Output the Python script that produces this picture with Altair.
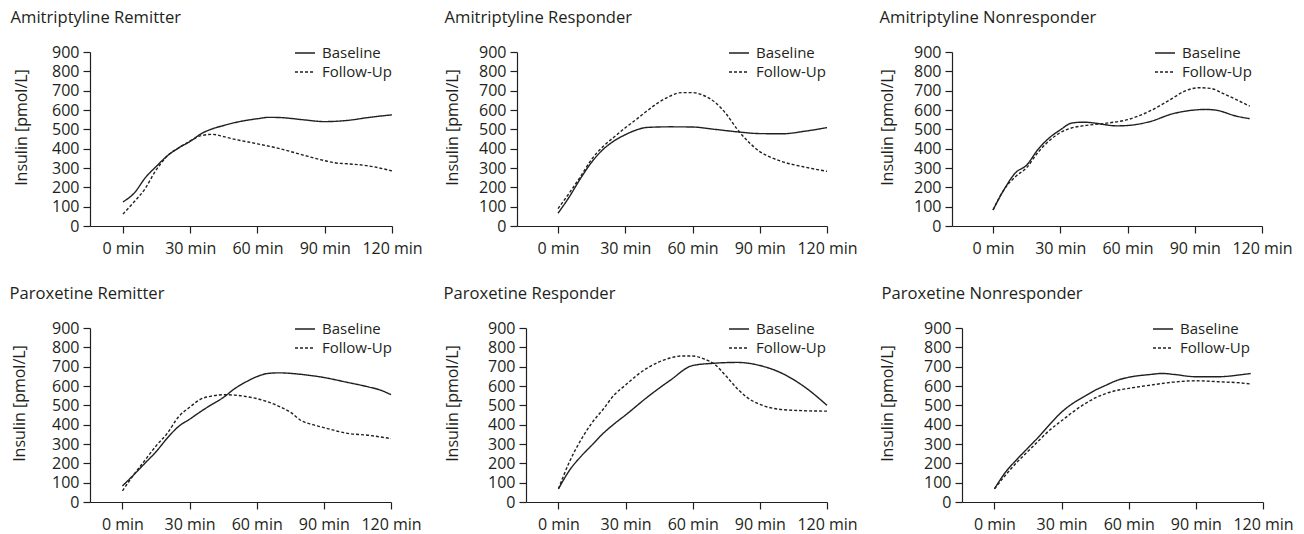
import altair as alt
import pandas as pd

FONT = "Open Sans"
INK = "#231f20"

TITLES = [
    "Amitriptyline Remitter", "Amitriptyline Responder", "Amitriptyline Nonresponder",
    "Paroxetine Remitter", "Paroxetine Responder", "Paroxetine Nonresponder",
]
SERIES = ["Baseline", "Follow-Up"]
X_TICKS = [0, 30, 60, 90, 120]
Y_TICKS = [0, 100, 200, 300, 400, 500, 600, 700, 800, 900]

# Amitriptyline Remitter
ar_base_t = [0, 5, 10, 15, 20, 25, 30, 35, 40, 45, 50, 60, 65, 70, 80, 90, 100, 110, 120]
ar_base_v = [125, 170, 250, 310, 365, 405, 438, 478, 503, 520, 535, 555, 562, 561, 550, 540, 546, 562, 575]
ar_fu_t = [0, 5, 10, 14, 20, 25, 30, 35, 40, 45, 50, 60, 70, 80, 90, 95, 100, 110, 120]
ar_fu_v = [62, 125, 195, 275, 365, 405, 440, 468, 474, 462, 448, 425, 400, 368, 338, 326, 322, 310, 285]

# Amitriptyline Responder
ap_base_t = [0, 5, 10, 15, 20, 25, 30, 35, 40, 50, 60, 70, 80, 90, 100, 110, 120]
ap_base_v = [66, 150, 245, 330, 395, 440, 472, 497, 510, 513, 512, 500, 487, 478, 477, 490, 509]
ap_fu_t = [0, 5, 10, 15, 20, 25, 30, 35, 40, 45, 50, 55, 60, 65, 70, 75, 80, 85, 90, 95, 100, 110, 120]
ap_fu_v = [90, 170, 255, 345, 410, 460, 508, 552, 598, 640, 672, 690, 690, 675, 640, 580, 500, 435, 385, 355, 333, 305, 283]

# Amitriptyline Nonresponder
an_base_t = [0, 5, 10, 15, 20, 25, 30, 35, 40, 45, 50, 55, 60, 70, 80, 90, 95, 100, 108, 114.5]
an_base_v = [83, 190, 275, 315, 395, 455, 497, 532, 537, 533, 524, 518, 520, 540, 580, 600, 603, 598, 570, 555]
an_fu_t = [0, 5, 10, 15, 20, 25, 30, 35, 40, 50, 60, 70, 80, 85, 92, 97, 103, 114.5]
an_fu_v = [83, 190, 255, 302, 380, 440, 483, 507, 518, 531, 550, 595, 660, 695, 715, 712, 683, 620]

# Paroxetine Remitter
pr_base_t = [0, 5, 10, 15, 20, 25, 30, 35, 40, 45, 50, 55, 60, 65, 70, 80, 90, 100, 110, 115, 120]
pr_base_v = [83, 140, 200, 260, 330, 390, 428, 468, 505, 540, 585, 620, 648, 665, 668, 660, 644, 620, 595, 580, 555]
pr_fu_t = [0, 5, 10, 15, 20, 25, 30, 35, 40, 45, 50, 55, 60, 65, 70, 75, 80, 85, 90, 100, 110, 120]
pr_fu_v = [58, 140, 215, 290, 355, 440, 490, 532, 548, 555, 553, 546, 535, 518, 495, 465, 420, 400, 385, 356, 345, 328]

# Paroxetine Responder
pp_base_t = [0, 5, 10, 15, 20, 25, 30, 40, 50, 60, 70, 80, 90, 100, 110, 120]
pp_base_v = [68, 165, 235, 295, 355, 405, 450, 545, 630, 706, 718, 722, 706, 665, 595, 500]
pp_fu_t = [0, 5, 10, 15, 20, 25, 30, 35, 40, 45, 50, 55, 60, 65, 70, 75, 80, 85, 90, 100, 110, 120]
pp_fu_v = [68, 210, 320, 410, 480, 555, 605, 655, 695, 725, 745, 755, 755, 740, 710, 650, 585, 535, 505, 478, 472, 470]

# Paroxetine Nonresponder
pn_base_t = [0, 5, 10, 15, 20, 25, 30, 35, 40, 45, 50, 55, 60, 70, 75, 80, 90, 100, 110, 114.5]
pn_base_v = [68, 155, 220, 280, 340, 405, 465, 510, 545, 578, 605, 630, 645, 660, 665, 660, 648, 648, 658, 665]
pn_fu_t = [0, 5, 10, 15, 20, 25, 30, 35, 40, 45, 50, 55, 60, 70, 80, 90, 100, 110, 114.5]
pn_fu_v = [68, 140, 205, 262, 320, 375, 420, 465, 505, 538, 562, 578, 588, 605, 620, 627, 622, 616, 610]

PANELS = [
    (ar_base_t, ar_base_v, ar_fu_t, ar_fu_v),
    (ap_base_t, ap_base_v, ap_fu_t, ap_fu_v),
    (an_base_t, an_base_v, an_fu_t, an_fu_v),
    (pr_base_t, pr_base_v, pr_fu_t, pr_fu_v),
    (pp_base_t, pp_base_v, pp_fu_t, pp_fu_v),
    (pn_base_t, pn_base_v, pn_fu_t, pn_fu_v),
]

# layout (pixels / axis extents), kept apart from the data
WIDTHS = [302, 310, 310, 301, 301, 301]
X_MIN = [-14.7, -18.3, -18.3, -14.5, -14.5, -14.5]
LEGEND_X = [204, 211, 202, 204, 202, 190]
TITLE_PAD = [22, 18, 18, 24, 27, 28]
TITLE_DX = [-3, 0, 0, -2, -1, 2]
HEIGHT = 174


def panel(i):
    bt, bv, ft, fv = PANELS[i]
    rows = [{"t": t, "v": v, "s": "Baseline"} for t, v in zip(bt, bv)]
    rows += [{"t": t, "v": v, "s": "Follow-Up"} for t, v in zip(ft, fv)]
    df = pd.DataFrame(rows)
    return (
        alt.Chart(
            df,
            title=alt.Title(
                TITLES[i], anchor="start", frame="bounds", fontSize=16.6, font=FONT,
                fontWeight="normal", color=INK, offset=15, dx=TITLE_DX[i],
            ),
        )
        .mark_line(interpolate="monotone", color=INK, strokeWidth=1.4)
        .encode(
            x=alt.X(
                "t:Q",
                scale=alt.Scale(domain=[X_MIN[i], 120], nice=False, zero=False),
                axis=alt.Axis(values=X_TICKS, labelExpr="datum.value + ' min'", title=None,
                              labelPadding=7, labelFlush=False, labelOverlap=False),
            ),
            y=alt.Y(
                "v:Q",
                scale=alt.Scale(domain=[0, 900], nice=False),
                axis=alt.Axis(values=Y_TICKS, title="Insulin [pmol/L]",
                              titlePadding=TITLE_PAD[i], titleY=HEIGHT / 2 - 12, labelPadding=4,
                              labelOverlap=False),
            ),
            strokeDash=alt.StrokeDash(
                "s:N",
                scale=alt.Scale(domain=SERIES, range=[[1, 0], [3, 2]]),
                legend=alt.Legend(title=None, orient="none", legendX=LEGEND_X[i], legendY=-10),
            ),
        )
        .properties(width=WIDTHS[i], height=HEIGHT)
    )


top = (
    alt.hconcat(panel(0), panel(1), panel(2), spacing=125, bounds="flush")
    .resolve_scale(strokeDash="independent")
    .resolve_legend(strokeDash="independent")
)
bottom = (
    alt.hconcat(panel(3), panel(4), panel(5), spacing=135, bounds="flush")
    .resolve_scale(strokeDash="independent")
    .resolve_legend(strokeDash="independent")
)
chart = (
    alt.vconcat(top, bottom, spacing=30)
    .resolve_scale(strokeDash="independent")
    .resolve_legend(strokeDash="independent")
    .properties(padding={"left": 1, "top": 2, "right": 0, "bottom": 0}, background="white")
    .configure_view(stroke=None)
    .configure_axis(
        grid=False, domainColor=INK, tickColor=INK, labelColor=INK, titleColor=INK,
        labelFont=FONT, titleFont=FONT, labelFontSize=16, titleFontSize=16,
        titleFontWeight="normal", tickSize=7, domainWidth=1.2, tickWidth=1.2,
    )
    .configure_legend(
        labelFont=FONT, labelFontSize=15, labelColor=INK, symbolType="stroke",
        symbolSize=400, symbolStrokeWidth=1.4, symbolStrokeColor=INK, labelOffset=6,
        rowPadding=0, padding=0,
    )
)

chart.save("out.html", embed_options={"renderer": "svg", "actions": False})
